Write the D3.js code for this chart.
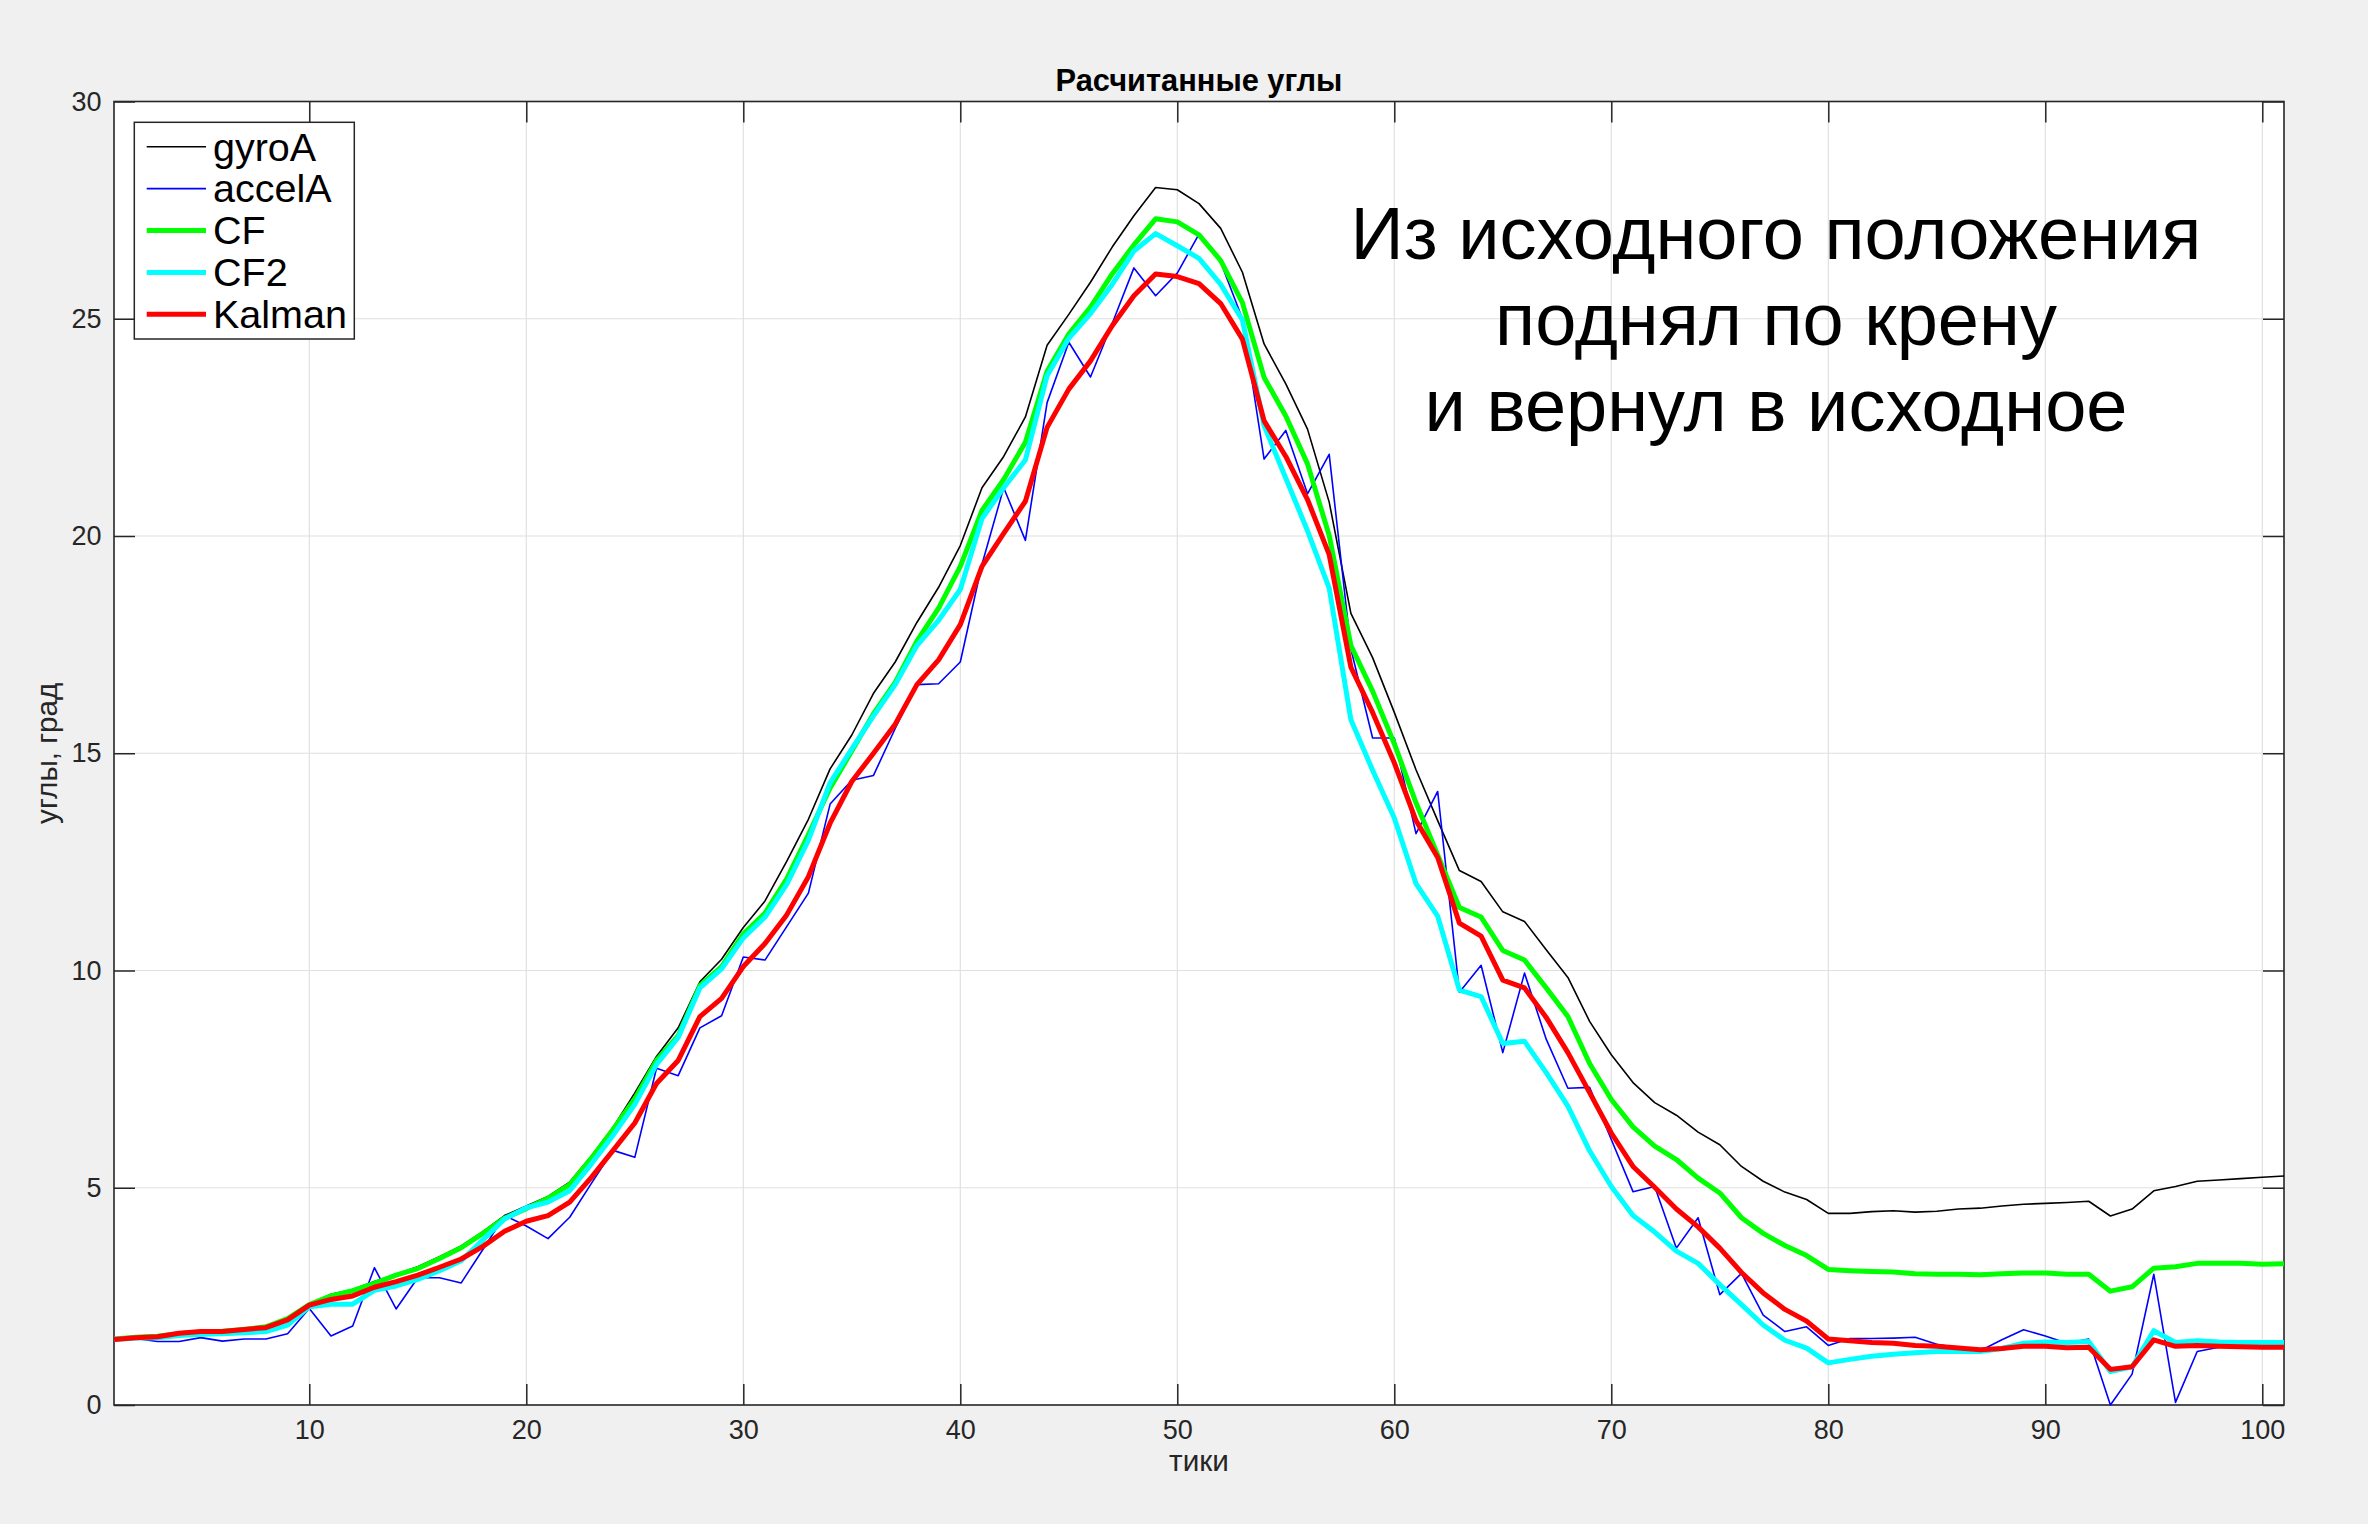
<!DOCTYPE html>
<html><head><meta charset="utf-8">
<script src="https://cdn.jsdelivr.net/npm/d3@7"></script>
<style>html,body{margin:0;padding:0;background:#f0f0f0;} svg{display:block;}</style>
</head><body>
<svg id="chart" width="2368" height="1524"></svg>
<script>
// ---- data ----
const tiki = [1,2,3,4,5,6,7,8,9,10,11,12,13,14,15,16,17,18,19,20,21,22,23,24,25,26,27,28,29,30,31,32,33,34,35,36,37,38,39,40,41,42,43,44,45,46,47,48,49,50,51,52,53,54,55,56,57,58,59,60,61,62,63,64,65,66,67,68,69,70,71,72,73,74,75,76,77,78,79,80,81,82,83,84,85,86,87,88,89,90,91,92,93,94,95,96,97,98,99,100,101];
const gyroA = [1.52,1.56,1.58,1.64,1.68,1.70,1.75,1.80,1.99,2.32,2.55,2.66,2.84,3.01,3.18,3.41,3.66,3.99,4.36,4.58,4.80,5.13,5.73,6.39,7.18,8.02,8.68,9.74,10.26,10.99,11.60,12.51,13.48,14.64,15.42,16.38,17.10,18.01,18.82,19.78,21.11,21.83,22.74,24.39,25.10,25.84,26.65,27.37,28.02,27.97,27.65,27.08,26.07,24.42,23.50,22.46,20.78,18.22,17.20,15.94,14.62,13.45,12.30,12.05,11.35,11.13,10.48,9.84,8.83,8.06,7.42,6.96,6.67,6.28,5.99,5.49,5.15,4.90,4.73,4.41,4.41,4.45,4.47,4.44,4.46,4.51,4.53,4.58,4.62,4.64,4.66,4.69,4.35,4.51,4.93,5.03,5.15,5.18,5.21,5.24,5.27];
const accelA = [1.51,1.53,1.46,1.46,1.55,1.47,1.52,1.52,1.64,2.22,1.59,1.82,3.16,2.21,2.93,2.93,2.81,3.58,4.36,4.12,3.83,4.32,5.10,5.86,5.70,7.75,7.58,8.68,8.96,10.31,10.24,11.01,11.78,13.83,14.38,14.49,15.57,16.58,16.60,17.10,19.35,21.11,19.90,23.07,24.46,23.66,24.89,26.17,25.53,26.05,26.95,26.30,25.00,21.77,22.43,20.97,21.88,17.40,15.35,15.35,13.15,14.12,9.50,10.12,8.11,9.94,8.42,7.29,7.31,6.11,4.91,5.03,3.61,4.31,2.54,3.03,2.07,1.69,1.80,1.37,1.53,1.53,1.54,1.56,1.40,1.31,1.25,1.50,1.73,1.59,1.42,1.52,0.00,0.71,3.01,0.06,1.23,1.33,1.33,1.33,1.33];
const CF = [1.52,1.56,1.58,1.64,1.68,1.70,1.74,1.80,1.99,2.31,2.51,2.63,2.80,2.99,3.14,3.37,3.62,3.95,4.30,4.52,4.76,5.07,5.68,6.34,7.05,7.93,8.50,9.65,10.09,10.84,11.32,12.11,13.13,14.20,15.05,15.91,16.63,17.58,18.34,19.30,20.59,21.30,22.16,23.79,24.65,25.27,26.03,26.70,27.30,27.23,26.93,26.34,25.37,23.65,22.76,21.66,20.01,17.48,16.43,15.22,13.86,12.66,11.45,11.23,10.46,10.24,9.60,8.94,7.86,7.03,6.40,5.96,5.65,5.22,4.88,4.31,3.95,3.67,3.44,3.12,3.09,3.07,3.06,3.02,3.01,3.01,3.00,3.02,3.04,3.04,3.01,3.01,2.62,2.72,3.15,3.18,3.26,3.26,3.26,3.24,3.25];
const CF2 = [1.51,1.54,1.55,1.60,1.63,1.64,1.66,1.69,1.84,2.26,2.32,2.32,2.64,2.74,2.89,3.09,3.32,3.80,4.28,4.54,4.67,4.93,5.55,6.21,6.92,7.84,8.46,9.60,10.04,10.75,11.23,11.98,13.00,14.32,15.10,15.86,16.58,17.48,18.06,18.77,20.40,21.11,21.75,23.69,24.55,25.12,25.79,26.56,26.96,26.68,26.39,25.79,24.97,22.54,21.33,20.12,18.80,15.77,14.61,13.51,12.00,11.25,9.55,9.40,8.32,8.37,7.65,6.88,5.85,5.03,4.36,3.98,3.54,3.26,2.77,2.31,1.84,1.49,1.31,0.97,1.05,1.12,1.17,1.20,1.23,1.23,1.23,1.30,1.42,1.45,1.44,1.46,0.77,0.88,1.71,1.44,1.48,1.45,1.44,1.44,1.44];
const Kalman = [1.51,1.55,1.57,1.65,1.69,1.69,1.74,1.78,1.96,2.30,2.43,2.51,2.71,2.84,2.99,3.17,3.36,3.65,4.00,4.23,4.36,4.67,5.24,5.86,6.49,7.40,7.93,8.94,9.36,10.09,10.62,11.28,12.16,13.39,14.35,15.00,15.67,16.58,17.15,17.96,19.30,20.06,20.80,22.50,23.38,24.03,24.84,25.53,26.03,25.97,25.81,25.35,24.53,22.65,21.83,20.84,19.57,16.98,15.94,14.78,13.45,12.60,11.09,10.79,9.78,9.60,8.92,8.11,7.19,6.26,5.49,5.01,4.51,4.10,3.61,3.05,2.58,2.20,1.93,1.52,1.48,1.44,1.42,1.37,1.35,1.31,1.27,1.30,1.35,1.35,1.32,1.33,0.82,0.88,1.50,1.35,1.37,1.35,1.34,1.33,1.33];
const seriesNames = ["gyroA","accelA","CF","CF2","Kalman"];
const xTickValues = [10,20,30,40,50,60,70,80,90,100];
const yTickValues = [0,5,10,15,20,25,30];
const titleText = "Расчитанные углы";
const xLabelText = "тики";
const yLabelText = "углы, град";
const noteLines = ["Из исходного положения","поднял по крену","и вернул в исходное"];

// ---- styling (kept separate from data) ----
const seriesStyle = {
  gyroA:  {color:"#000000", width:1.6},
  accelA: {color:"#0000ff", width:1.6},
  CF:     {color:"#00ff00", width:5},
  CF2:    {color:"#00ffff", width:5},
  Kalman: {color:"#ff0000", width:5}
};
const seriesData = {gyroA, accelA, CF, CF2, Kalman};
const FONT = "'Liberation Sans', Arial, Helvetica, sans-serif";
const AX = "#262626";

const svg = d3.select("#chart");
const P = {left:114, right:2284, top:101.5, bottom:1405};
const x = d3.scaleLinear().domain([1,101]).range([P.left,P.right]);
const y = d3.scaleLinear().domain([0,30]).range([P.bottom,P.top]);

svg.append("rect").attr("width",2368).attr("height",1524).attr("fill","#f0f0f0");
svg.append("rect").attr("x",P.left).attr("y",P.top).attr("width",P.right-P.left).attr("height",P.bottom-P.top).attr("fill","#ffffff");

// grid
const grid = svg.append("g");
grid.selectAll("line.gx").data(xTickValues).join("line")
  .attr("x1",d=>x(d)).attr("x2",d=>x(d)).attr("y1",P.top).attr("y2",P.bottom)
  .attr("stroke","#e0e0e0").attr("stroke-width",1.2);
grid.selectAll("line.gy").data(yTickValues.filter(v=>v>0&&v<30)).join("line")
  .attr("x1",P.left).attr("x2",P.right).attr("y1",d=>y(d)).attr("y2",d=>y(d))
  .attr("stroke","#e0e0e0").attr("stroke-width",1.2);

// axes with inward ticks on all four sides
function styleAxis(g){
  g.selectAll(".domain").remove();
  g.selectAll(".tick line").attr("stroke",AX).attr("stroke-width",1.5);
  g.selectAll("text").attr("fill",AX).attr("font-family",FONT).attr("font-size",27);
}
svg.append("g").attr("transform",`translate(0,${P.bottom})`)
  .call(d3.axisBottom(x).tickValues(xTickValues).tickSizeInner(-21).tickSizeOuter(0).tickPadding(14.5))
  .call(styleAxis);
svg.append("g").attr("transform",`translate(0,${P.top})`)
  .call(d3.axisTop(x).tickValues(xTickValues).tickSizeInner(-21).tickSizeOuter(0).tickFormat(""))
  .call(styleAxis);
svg.append("g").attr("transform",`translate(${P.left},0)`)
  .call(d3.axisLeft(y).tickValues(yTickValues).tickSizeInner(-21).tickSizeOuter(0).tickPadding(12.5))
  .call(styleAxis);
svg.append("g").attr("transform",`translate(${P.right},0)`)
  .call(d3.axisRight(y).tickValues(yTickValues).tickSizeInner(-21).tickSizeOuter(0).tickFormat(""))
  .call(styleAxis);

// box
svg.append("rect").attr("x",P.left).attr("y",P.top).attr("width",P.right-P.left).attr("height",P.bottom-P.top)
  .attr("fill","none").attr("stroke",AX).attr("stroke-width",1.6);

// series
const clip = svg.append("clipPath").attr("id","clip").append("rect")
  .attr("x",P.left).attr("y",P.top-4).attr("width",P.right-P.left).attr("height",P.bottom-P.top+8);
const line = d3.line().x((d,i)=>x(tiki[i])).y(d=>y(d));
const lg = svg.append("g").attr("clip-path","url(#clip)");
seriesNames.forEach(n=>{
  lg.append("path").datum(seriesData[n]).attr("d",line)
    .attr("fill","none").attr("stroke",seriesStyle[n].color).attr("stroke-width",seriesStyle[n].width)
    .attr("stroke-linejoin","round").attr("stroke-linecap","butt");
});

// title & labels
svg.append("text").attr("x",(P.left+P.right)/2).attr("y",90.7).attr("text-anchor","middle")
  .attr("font-family",FONT).attr("font-weight","bold").attr("font-size",30.8).attr("fill","#000").text(titleText);
svg.append("text").attr("x",(P.left+P.right)/2).attr("y",1471).attr("text-anchor","middle")
  .attr("font-family",FONT).attr("font-size",29.7).attr("fill",AX).text(xLabelText);
svg.append("text").attr("transform",`translate(57,${(P.top+P.bottom)/2}) rotate(-90)`).attr("text-anchor","middle")
  .attr("font-family",FONT).attr("font-size",29.7).attr("fill",AX).text(yLabelText);

// legend
const L = {x:134.3, y:122.3, w:220, h:216.7, rowY0:146.7, dy:41.9, l1:146.7, l2:206, tx:213};
const leg = svg.append("g");
leg.append("rect").attr("x",L.x).attr("y",L.y).attr("width",L.w).attr("height",L.h)
  .attr("fill","#fff").attr("stroke",AX).attr("stroke-width",1.5);
seriesNames.forEach((n,i)=>{
  const yy = L.rowY0 + i*L.dy;
  leg.append("line").attr("x1",L.l1).attr("x2",L.l2).attr("y1",yy).attr("y2",yy)
    .attr("stroke",seriesStyle[n].color).attr("stroke-width",seriesStyle[n].width);
  leg.append("text").attr("x",L.tx).attr("y",yy).attr("dy","0.35em")
    .attr("font-family",FONT).attr("font-size",39.5).attr("fill","#000").text(n);
});

// annotation
noteLines.forEach((t,i)=>{
  svg.append("text").attr("x",1776).attr("y",259.3+i*85.7).attr("text-anchor","middle")
    .attr("font-family",FONT).attr("font-size",74).attr("fill","#000").text(t);
});
</script>
</body></html>
